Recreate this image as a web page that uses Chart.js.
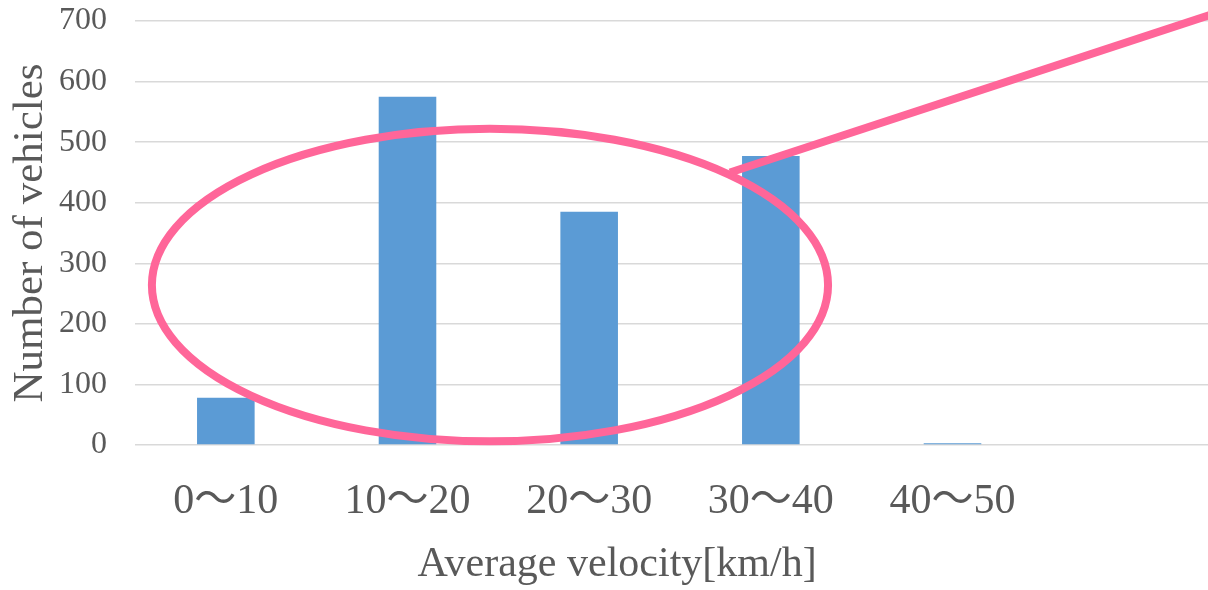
<!DOCTYPE html>
<html>
<head>
<meta charset="utf-8">
<script src="https://cdn.jsdelivr.net/npm/chart.js@4"></script>
<style>
  html, body { margin: 0; padding: 0; background: #fff; overflow: hidden; }
  #wrap { width: 1225px; height: 590px; position: relative; }
</style>
</head>
<body>
<div id="wrap"><canvas id="chart"></canvas></div>
<script>
const categories = ['0～10', '10～20', '20～30', '30～40', '40～50', ''];
const vehicles = [78, 575, 385, 477, 3, null];
const yTicks = [0, 100, 200, 300, 400, 500, 600, 700];

// callout shapes, in data units (category index, vehicle count)
const ellipseCenter = [1.454, 264];
const ellipseRadius = [1.861, 258];
const calloutLine = [[2.775, 450], [5.5, 718]];

const FONT = '"Liberation Serif", "Times New Roman", "Noto Sans CJK JP", serif';
const TEXT = '#595959';
const PINK = '#ff6699';

const callout = {
  id: 'callout',
  afterDatasetsDraw(chart) {
    const { ctx, scales: { x, y } } = chart;
    const cx = x.getPixelForValue(ellipseCenter[0]);
    const cy = y.getPixelForValue(ellipseCenter[1]);
    const rx = x.getPixelForValue(ellipseCenter[0] + ellipseRadius[0]) - cx;
    const ry = cy - y.getPixelForValue(ellipseCenter[1] + ellipseRadius[1]);
    ctx.save();
    ctx.strokeStyle = PINK;
    ctx.lineWidth = 8;
    ctx.beginPath();
    ctx.ellipse(cx, cy, rx, ry, 0, 0, Math.PI * 2);
    ctx.stroke();
    ctx.beginPath();
    ctx.moveTo(x.getPixelForValue(calloutLine[0][0]), y.getPixelForValue(calloutLine[0][1]));
    ctx.lineTo(x.getPixelForValue(calloutLine[1][0]), y.getPixelForValue(calloutLine[1][1]));
    ctx.stroke();
    ctx.restore();
  },
};

new Chart(document.getElementById('chart'), {
  type: 'bar',
  data: {
    labels: categories,
    datasets: [{
      data: vehicles,
      backgroundColor: '#5b9bd5',
      barPercentage: 0.317,
      categoryPercentage: 1,
    }],
  },
  options: {
    responsive: true,
    maintainAspectRatio: false,
    animation: false,
    layout: { padding: { left: 9, top: 21, right: 0, bottom: 0 } },
    plugins: {
      legend: { display: false },
      tooltip: { enabled: false },
      title: {
        display: true,
        position: 'bottom',
        text: 'Average velocity[km/h]',
        color: TEXT,
        font: { family: FONT, size: 42, weight: 'normal', lineHeight: 1 },
        padding: { top: 24, bottom: 4 },
      },
    },
    scales: {
      x: {
        grid: { display: false },
        border: { display: false },
        ticks: {
          color: TEXT,
          padding: 28,
          autoSkip: false,
          maxRotation: 0,
          font: { family: FONT, size: 42, lineHeight: 1 },
        },
        afterFit(scale) { scale.height = 75; },
      },
      y: {
        min: 0,
        max: 700,
        afterBuildTicks(scale) { scale.ticks = yTicks.map(v => ({ value: v })); },
        grid: {
          color: '#d9d9d9',
          lineWidth: 1.5,
          drawTicks: true,
          tickLength: 28,
          tickColor: 'rgba(0,0,0,0)',
        },
        border: { display: false },
        ticks: {
          color: TEXT,
          padding: 0,
          font: { family: FONT, size: 32, lineHeight: 1 },
        },
        title: {
          display: true,
          text: 'Number of vehicles',
          color: TEXT,
          font: { family: FONT, size: 43, lineHeight: 1 },
          padding: { top: 0, bottom: 0 },
        },
        afterFit(scale) { scale.width = 126; },
      },
    },
  },
  plugins: [callout],
});
</script>
</body>
</html>
